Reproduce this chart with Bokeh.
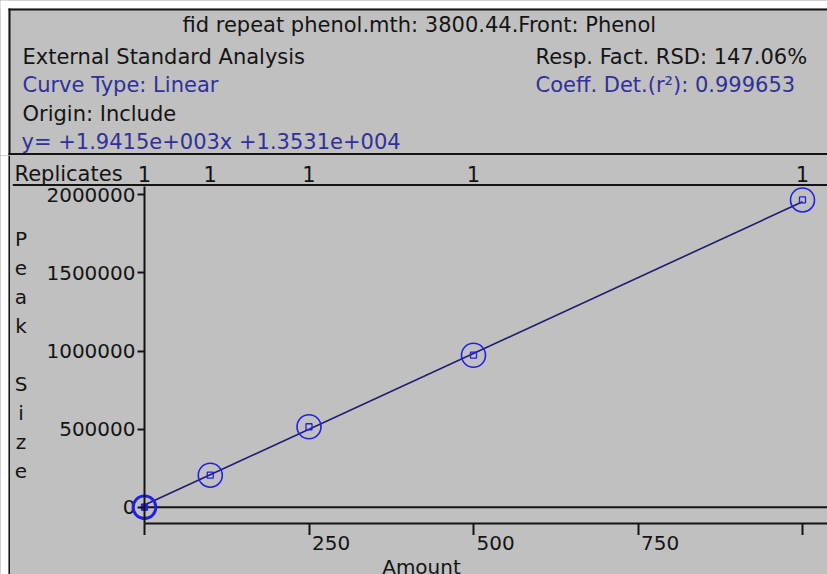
from bokeh.plotting import figure
from bokeh.layouts import column, row
from bokeh.models import Range1d, FixedTicker
from bokeh.core.properties import value
from bokeh.embed import file_html
from bokeh.resources import INLINE

# ---------------- data ----------------
amounts = [0, 100, 250, 500, 1000]
peak_sizes = [0, 205000, 515000, 973000, 1967000]
replicates = [1, 1, 1, 1, 1]
origin_amount = [0]
origin_peak = [0]
slope = 1.9415e3
intercept = 1.3531e4
fit_amounts = [0, 1000]
fit_peaks = [slope * a + intercept for a in fit_amounts]
x_ticks = [0, 250, 500, 750, 1000]
x_label_ticks = [250, 500, 750]
x_tick_labels = ["250", "500", "750"]
y_ticks = [0, 500000, 1000000, 1500000, 2000000]
y_tick_labels = ["0", "500000", "1000000", "1500000", "2000000"]

title_text = "fid repeat phenol.mth: 3800.44.Front: Phenol"
analysis_text = "External Standard Analysis"
curve_text = "Curve Type: Linear"
origin_text = "Origin: Include"
equation_text = "y=  +1.9415e+003x +1.3531e+004"
rsd_text = "Resp. Fact. RSD: 147.06%"
coeff_text = "Coeff. Det.(r\u00b2): 0.999653"
replicates_text = "Replicates"
x_title = "Amount"
y_title = "Peak Size"

# ---------------- styling / layout ----------------
GRAY = "#c0c0c0"
WHITE = "#ffffff"
BLACK = "#141414"
BLUE_TXT = "#30309a"
MARK = "#2020e6"
LINE = "#1c1c70"
FONT = value("DejaVu Sans")
FS = value("20px")
FS_HEAD = value("21px")

W, H = 827, 574
HEAD_H = 155          # header strip height (down to the first separator)
LEFT_W = 10           # white margin + left border line
BORDER_L = 2          # left border of the plot
FRAME_L = LEFT_W + BORDER_L
AXIS_X = 144          # page x of amount 0 (the y axis)
ZERO_Y = 506.7        # page y of peak size 0
FRAME_B = 523         # page y of the plot frame's bottom edge
BORDER_B = 12
BOT_H = H - FRAME_B - BORDER_B
AXIS_TOP = 185.5      # page y where the y axis line starts
AMOUNT_PER_PX = 250 / 164.5
PEAK_PER_PX = 500000 / 78.1
X_START = -(AXIS_X - FRAME_L) * AMOUNT_PER_PX
X_END = (W - AXIS_X) * AMOUNT_PER_PX
Y_START = (ZERO_Y - FRAME_B) * PEAK_PER_PX
Y_END = (ZERO_Y - HEAD_H) * PEAK_PER_PX
Y_AXIS_TOP = (ZERO_Y - AXIS_TOP) * PEAK_PER_PX
BASE = 7              # baseline correction for alphabetic text


def bare(fig):
    fig.grid.visible = False
    fig.outline_line_color = None
    fig.background_fill_color = GRAY
    fig.border_fill_color = GRAY
    return fig


# ----- header -----
hd = bare(figure(width=W, height=HEAD_H, x_range=Range1d(0, W),
                 y_range=Range1d(HEAD_H, 0), x_axis_type=None, y_axis_type=None,
                 output_backend="svg", toolbar_location=None,
                 min_border=0, min_border_left=0, min_border_right=0,
                 min_border_top=0, min_border_bottom=0))
hd.quad(left=[0, 0], right=[W, 8], top=[0, 0], bottom=[8, HEAD_H],
        fill_color=WHITE, line_color=None)
hd.quad(left=[8, 8, 8], right=[W, 10, W], top=[8, 8, 152.5],
        bottom=[10, HEAD_H, 154.5], fill_color=BLACK, line_color=None)


def htext(s, x, y, color=BLACK):
    hd.text(x=[x], y=[y - BASE], text=[s], text_font=FONT, text_font_size=FS_HEAD,
            text_color=color, text_align="left", text_baseline="alphabetic")


htext(title_text, 182, 31)
htext(analysis_text, 22, 63)
htext(rsd_text, 535, 63)
htext(curve_text, 22, 91.5, BLUE_TXT)
htext(coeff_text, 535, 91.5, BLUE_TXT)
htext(origin_text, 22, 120)
htext(equation_text, 21, 148, BLUE_TXT)

# ----- left margin strip -----
lf = bare(figure(width=LEFT_W, height=H - HEAD_H, x_range=Range1d(0, LEFT_W),
                 y_range=Range1d(H, HEAD_H), x_axis_type=None, y_axis_type=None,
                 output_backend="svg", toolbar_location=None,
                 min_border=0, min_border_left=0, min_border_right=0,
                 min_border_top=0, min_border_bottom=0))
lf.quad(left=[0, 8], right=[8, 10], top=[HEAD_H, HEAD_H], bottom=[H, H],
        fill_color=[WHITE, BLACK], line_color=None)

# ----- main plot -----
PW = W - LEFT_W
p = bare(figure(width=PW, height=FRAME_B + BORDER_B - HEAD_H,
                x_range=Range1d(X_START, X_END), y_range=Range1d(Y_START, Y_END),
                output_backend="svg", toolbar_location=None,
                min_border_left=BORDER_L, min_border_right=0,
                min_border_top=0, min_border_bottom=BORDER_B))
p.extra_x_ranges = {"page": Range1d(FRAME_L, W)}
p.extra_y_ranges = {"page": Range1d(FRAME_B, HEAD_H)}

xa = p.xaxis[0]
xa.ticker = FixedTicker(ticks=[], minor_ticks=x_ticks)
xa.bounds = (0, X_END)
xa.minor_tick_out = 12
xa.minor_tick_in = 0
xa.major_tick_out = 0
xa.major_label_standoff = 0
xa.axis_line_width = 2
xa.axis_line_color = BLACK
xa.minor_tick_line_width = 2
xa.minor_tick_line_color = BLACK

ya = p.yaxis[0]
ya.fixed_location = 0
ya.bounds = (Y_START, Y_AXIS_TOP)
ya.ticker = FixedTicker(ticks=[], minor_ticks=y_ticks)
ya.major_tick_out = 0
ya.major_label_standoff = 0
ya.minor_tick_out = 7
ya.minor_tick_in = 0
ya.axis_line_width = 2
ya.axis_line_color = BLACK
ya.minor_tick_line_width = 2
ya.minor_tick_line_color = BLACK

# replicates row and its separator line
p.quad(left=[FRAME_L], right=[W], top=[183.5], bottom=[185.5], fill_color=BLACK,
       line_color=None, x_range_name="page", y_range_name="page")
p.text(x=[14], y=[180 - BASE], text=[replicates_text], text_font=FONT,
       text_font_size=FS_HEAD, text_color=BLACK, text_align="left",
       text_baseline="alphabetic", x_range_name="page", y_range_name="page")
p.text(x=amounts, y=[180 - BASE] * len(amounts), text=[str(r) for r in replicates],
       text_font=FONT, text_font_size=FS_HEAD, text_color=BLACK,
       text_align="center", text_baseline="alphabetic", y_range_name="page")

# vertical axis title, one letter per line
letters = [(ch, i) for i, ch in enumerate(y_title) if ch.strip()]
p.text(x=[20.5] * len(letters), y=[245 - BASE + 29.1 * i for _, i in letters],
       text=[ch for ch, _ in letters], text_font=FONT, text_font_size=FS,
       text_color=BLACK, text_align="center", text_baseline="alphabetic",
       x_range_name="page", y_range_name="page")

# y tick labels, placed through the y scale
p.text(x=[0] * len(y_ticks), y=y_ticks, text=y_tick_labels, x_offset=-9,
       text_font=FONT, text_font_size=FS, text_color=BLACK,
       text_align="right", text_baseline="middle")

p.segment(x0=[0], y0=[0], x1=[X_END], y1=[0], line_color=BLACK, line_width=2)

p.line(fit_amounts, fit_peaks, line_color=LINE, line_width=1.6)
p.scatter(amounts, peak_sizes, marker="circle", size=24, fill_color=None,
          line_color=MARK, line_width=1.6)
p.scatter(amounts, peak_sizes, marker="square", size=6, fill_color=None,
          line_color=MARK, line_width=1.3)
p.scatter(origin_amount, origin_peak, marker="circle", size=22, fill_color=None,
          line_color=MARK, line_width=2.2)
p.scatter(origin_amount, origin_peak, marker="circle", size=7, fill_color=MARK,
          line_color=MARK)

# ----- strip below the x axis: tick labels and axis title -----
bt = bare(figure(width=PW, height=BOT_H, x_range=p.x_range,
                 y_range=Range1d(H, H - BOT_H), x_axis_type=None, y_axis_type=None,
                 output_backend="svg", toolbar_location=None,
                 min_border_left=BORDER_L, min_border_right=0,
                 min_border_top=0, min_border_bottom=0))
bt.extra_x_ranges = {"page": Range1d(FRAME_L, W)}
bt.text(x=x_label_ticks, y=[535.5] * len(x_label_ticks), text=x_tick_labels,
        x_offset=3, text_font=FONT, text_font_size=FS, text_color=BLACK,
        text_align="left", text_baseline="top")
bt.text(x=[421], y=[554], text=[x_title], text_font=FONT, text_font_size=FS,
        text_color=BLACK, text_align="center", text_baseline="top",
        x_range_name="page")

inner = column(p, bt)
lower = row(lf, inner)
layout = column(hd, lower)
for obj in (inner, lower, layout):
    obj.styles = {"background-color": GRAY}
open("out.html", "w").write(file_html(layout, INLINE))
